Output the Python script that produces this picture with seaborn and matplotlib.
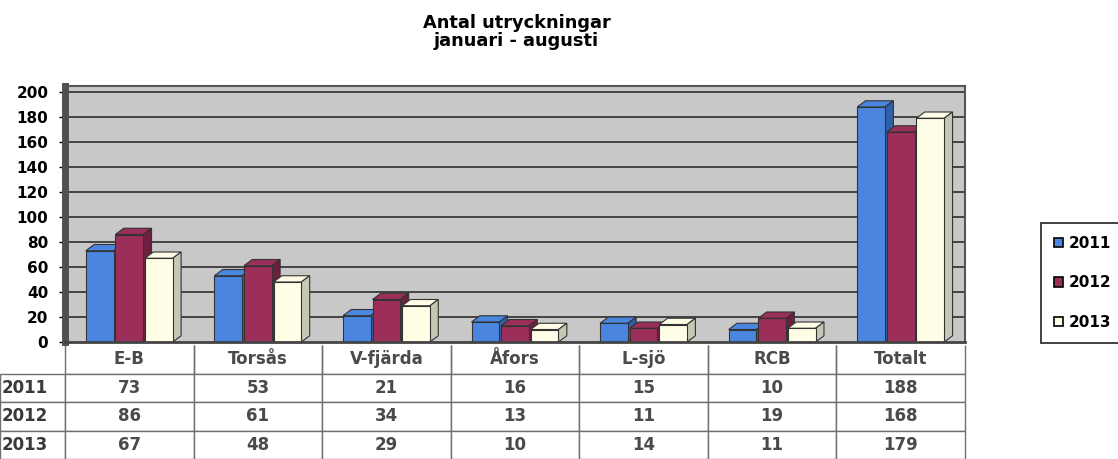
import numpy as np
import pandas as pd
import seaborn as sns
import matplotlib.pyplot as plt
from matplotlib.patches import Polygon, Patch

categories = ["E-B", "Torsås", "V-fjärda", "Åfors", "L-sjö", "RCB", "Totalt"]
years = ["2011", "2012", "2013"]
v2011 = [73, 53, 21, 16, 15, 10, 188]
v2012 = [86, 61, 34, 13, 11, 19, 168]
v2013 = [67, 48, 29, 10, 14, 11, 179]
yticks = [0, 20, 40, 60, 80, 100, 120, 140, 160, 180, 200]
title = "Antal utryckningar\njanuari - augusti"

colors = ["#4a86df", "#9b2f5a", "#fffde6"]
side_colors = ["#2f5fa8", "#6e1f3f", "#c8c6b4"]

sns.set_theme(style="white")
plt.rcParams['font.family'] = ['DejaVu Sans']

W, H = 1118, 459
fig = plt.figure(figsize=(W / 100, H / 100), dpi=100)
ax_bottom_px = 342
ax_top_px = 85.75
ax = fig.add_axes([65 / W, (H - ax_bottom_px) / H, 900 / W, (ax_bottom_px - ax_top_px) / H])
ax.set_facecolor("#c8c8c8")

series = [v2011, v2012, v2013]
df = pd.DataFrame({
    "cat": categories * 3,
    "year": [y for y in years for _ in categories],
    "val": [v for s in series for v in s],
})

for yv in yticks[1:]:
    ax.axhline(yv, color="#3a3a3a", lw=1.3, zorder=0.5)

sns.barplot(data=df, x="cat", y="val", hue="year", order=categories, hue_order=years,
            palette=colors, width=0.69, gap=0.06, saturation=1, edgecolor="#333333",
            linewidth=0.8, ax=ax, legend=False, zorder=2)

# 3D effect derived from the bars drawn by seaborn
dx, dy = 0.065, 5.0
bars = list(ax.patches)
for i, p in enumerate(bars):
    hue_idx = i // len(categories)
    x, w, h = p.get_x(), p.get_width(), p.get_height()
    top = Polygon([(x, h), (x + dx, h + dy), (x + w + dx, h + dy), (x + w, h)], closed=True,
                  facecolor=colors[hue_idx], edgecolor="#333333", lw=0.8, zorder=1.9)
    side = Polygon([(x + w, 0), (x + w + dx, dy), (x + w + dx, h + dy), (x + w, h)], closed=True,
                   facecolor=side_colors[hue_idx], edgecolor="#333333", lw=0.8, zorder=1.9)
    ax.add_patch(top)
    ax.add_patch(side)

ax.set_xlim(-0.5, 6.5)
ax.set_ylim(0, 205)
ax.set_yticks(yticks)
ax.set_yticklabels([str(t) for t in yticks], fontsize=11, fontweight="bold", color="black")
ax.tick_params(axis="y", length=4, width=1, color="black", direction="out", left=True, pad=8)
ax.set_xticks([])
ax.set_xlabel("")
ax.set_ylabel("")
for side_name, sp in ax.spines.items():
    sp.set_color("#555555")
ax.spines["left"].set_linewidth(5)
ax.spines["left"].set_color("#505050")
ax.spines["bottom"].set_linewidth(2)
ax.spines["bottom"].set_color("#444444")
ax.spines["right"].set_linewidth(1.5)
ax.spines["top"].set_linewidth(1.5)

# data table
cell_text = [[""] + categories]
for y, s in zip(years, series):
    cell_text.append([y] + [str(v) for v in s])
axes_h_px = ax_bottom_px - ax_top_px
tb_bottom = -(H - ax_bottom_px) / axes_h_px
tb_top = -3 / axes_h_px
lab_w = 65 / 900
tbl = ax.table(cellText=cell_text, cellLoc="center",
               colWidths=[lab_w] + [1 / 7] * 7,
               bbox=[-lab_w, tb_bottom, 1 + lab_w, tb_top - tb_bottom])
tbl.auto_set_font_size(False)
for (r, c), cell in tbl.get_celld().items():
    cell.set_edgecolor("#707070")
    cell.set_linewidth(1)
    cell.set_facecolor("white")
    t = cell.get_text()
    t.set_fontweight("bold")
    t.set_fontsize(12)
    t.set_color("#4a4a4a")
    if c == 0 and r > 0:
        t.set_ha("left")
        cell.PAD = 0.02
        t.set_color("#3a3a3a")
    if r == 0:
        cell.visible_edges = "BLR" if c > 0 else ""

fig.text(0.462, 0.97, title, ha="center", va="top", fontsize=12.8, fontweight="bold",
         linespacing=1.0, color="black")

handles = [Patch(facecolor=c, edgecolor="black", lw=1.2) for c in colors]
leg = fig.legend(handles, years, loc="upper left", bbox_to_anchor=(1041 / W, 1 - 223 / H),
                 borderaxespad=0, frameon=True, fancybox=False, edgecolor="black",
                 handlelength=0.6, handleheight=0.6, handletextpad=0.35, labelspacing=1.6,
                 borderpad=0.85, prop={"weight": "bold", "size": 11})
leg.get_frame().set_linewidth(1.3)
for txt in leg.get_texts():
    txt.set_color("black")

fig.savefig("out.png", dpi=100)
